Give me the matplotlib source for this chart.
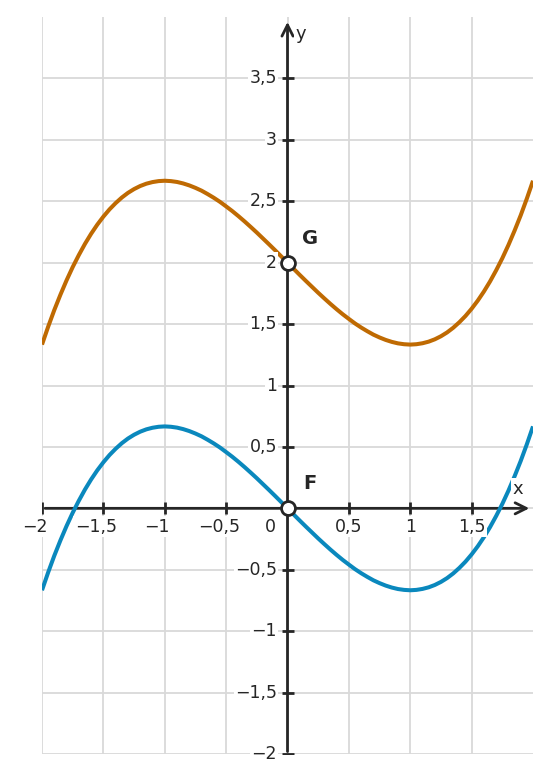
import numpy as np
import matplotlib
matplotlib.use("Agg")
import matplotlib.pyplot as plt
from matplotlib.transforms import offset_copy

# values, step 0.05 from -2 to 2
x_vals = np.round(np.arange(-2.0, 2.001, 0.05), 2)
f_vals = [-0.667, -0.522, -0.386, -0.261, -0.144, -0.036, 0.062, 0.153, 0.235, 0.309,
          0.375, 0.434, 0.485, 0.530, 0.568, 0.599, 0.624, 0.643, 0.656, 0.664,
          0.667, 0.664, 0.657, 0.645, 0.629, 0.609, 0.586, 0.558, 0.528, 0.495,
          0.458, 0.420, 0.379, 0.336, 0.291, 0.245, 0.197, 0.149, 0.100, 0.050,
          0.000, -0.050, -0.100, -0.149, -0.197, -0.245, -0.291, -0.336, -0.379, -0.420,
          -0.458, -0.495, -0.528, -0.558, -0.586, -0.609, -0.629, -0.645, -0.657, -0.664,
          -0.667, -0.664, -0.656, -0.643, -0.624, -0.599, -0.568, -0.530, -0.485, -0.434,
          -0.375, -0.309, -0.235, -0.153, -0.062, 0.036, 0.144, 0.261, 0.386, 0.522,
          0.667]
g_vals = [1.333, 1.478, 1.614, 1.739, 1.856, 1.964, 2.062, 2.153, 2.235, 2.309,
          2.375, 2.434, 2.485, 2.530, 2.568, 2.599, 2.624, 2.643, 2.656, 2.664,
          2.667, 2.664, 2.657, 2.645, 2.629, 2.609, 2.586, 2.558, 2.528, 2.495,
          2.458, 2.420, 2.379, 2.336, 2.291, 2.245, 2.197, 2.149, 2.100, 2.050,
          2.000, 1.950, 1.900, 1.851, 1.803, 1.755, 1.709, 1.664, 1.621, 1.580,
          1.542, 1.505, 1.472, 1.442, 1.414, 1.391, 1.371, 1.355, 1.343, 1.336,
          1.333, 1.336, 1.344, 1.357, 1.376, 1.401, 1.432, 1.470, 1.515, 1.566,
          1.625, 1.691, 1.765, 1.847, 1.938, 2.036, 2.144, 2.261, 2.386, 2.522,
          2.667]

x_ticks = [-2, -1.5, -1, -0.5, 0.5, 1, 1.5]
x_labels = ["−2", "−1,5", "−1", "−0,5", "0,5", "1", "1,5"]
y_ticks = [-2, -1.5, -1, -0.5, 0.5, 1, 1.5, 2, 2.5, 3, 3.5]
y_labels = ["−2", "−1,5", "−1", "−0,5", "0,5", "1", "1,5", "2", "2,5", "3", "3,5"]
points = {"F": (0, 0), "G": (0, 2)}

AXIS = "#262626"
GRID = "#d9d9d9"
ORANGE = "#bf6a02"
BLUE = "#0a88bd"

fig = plt.figure(figsize=(5.51, 7.83), dpi=100)
ax = fig.add_axes([42 / 551, 29 / 783, 491 / 551, 737 / 783])
ax.set_xlim(-2, 2)
ax.set_ylim(-2, 4)
ax.axis("off")

# grid
for gx in np.arange(-2, 2, 0.5):
    ax.plot([gx, gx], [-2, 4], color=GRID, lw=1.3, zorder=1)
for gy in np.arange(-2, 4, 0.5):
    ax.plot([-2, 2], [gy, gy], color=GRID, lw=1.3, zorder=1)

# axes with arrows
ax.annotate("", xy=(1.97, 0), xytext=(-1.975, 0),
            arrowprops=dict(arrowstyle="->", color=AXIS, lw=2, mutation_scale=20,
                            shrinkA=0, shrinkB=0), zorder=3)
ax.annotate("", xy=(0, 3.96), xytext=(0, -1.98),
            arrowprops=dict(arrowstyle="->", color=AXIS, lw=2, mutation_scale=20,
                            shrinkA=0, shrinkB=0), zorder=3)

# tick marks
ax.plot(x_ticks, [0] * len(x_ticks), ls="none", marker="|", ms=8, mew=2,
        color=AXIS, zorder=3)
ax.plot([0] * len(y_ticks), y_ticks, ls="none", marker="_", ms=8, mew=2,
        color=AXIS, zorder=3)

box = dict(facecolor="white", edgecolor="none", pad=1)
# negative labels: the number is centred on the tick, the minus hangs left
shifted = offset_copy(ax.transData, fig=fig, x=-5.4, y=0, units="points")
for t, lab in zip(x_ticks, x_labels):
    tr = shifted if lab.startswith("−") else ax.transData
    ax.text(t, -0.15, lab, ha="center", va="center", fontsize=12.5,
            color=AXIS, bbox=box, zorder=5, transform=tr)
for t, lab in zip(y_ticks, y_labels):
    ax.text(-0.085, t, lab, ha="right", va="center", fontsize=12.5,
            color=AXIS, bbox=box, zorder=5)
ax.text(-0.14, -0.15, "0", ha="center", va="center", fontsize=12.5, color=AXIS, zorder=5)
ax.text(1.876, 0.16, "x", ha="center", va="center", fontsize=13, color=AXIS,
        bbox=box, zorder=5)
ax.text(0.11, 3.86, "y", ha="center", va="center", fontsize=13, color=AXIS,
        bbox=box, zorder=5)

# curves
ax.plot(x_vals, g_vals, color=ORANGE, lw=2.9, zorder=4, solid_capstyle="butt")
ax.plot(x_vals, f_vals, color=BLUE, lw=2.9, zorder=4, solid_capstyle="butt")

for name, (px, py) in points.items():
    ax.plot(px, py, marker="o", ms=10, mfc="white", mec=AXIS, mew=2, zorder=6)
    ax.text(px + 0.18, py + 0.2, name, ha="center", va="center", fontsize=14,
            fontweight="bold", color=AXIS, zorder=6)

fig.savefig("out.png", dpi=100)
